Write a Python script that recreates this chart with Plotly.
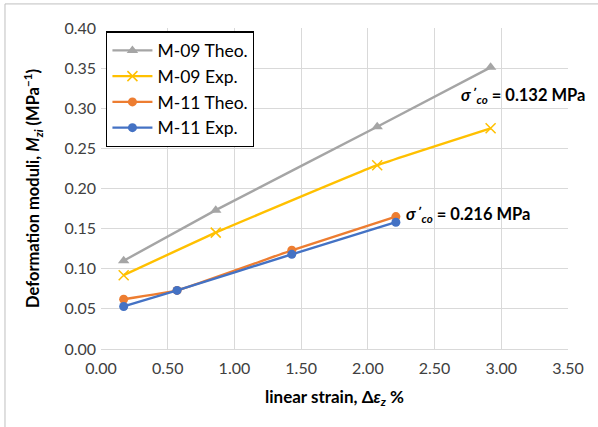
import plotly.graph_objects as go

m09_theo_x = [0.17, 0.86, 2.07, 2.92]
m09_theo_y = [0.110, 0.173, 0.277, 0.351]
m09_exp_x = [0.17, 0.86, 2.07, 2.92]
m09_exp_y = [0.092, 0.145, 0.229, 0.275]
m11_theo_x = [0.17, 0.57, 1.43, 2.21]
m11_theo_y = [0.062, 0.073, 0.123, 0.165]
m11_exp_x = [0.17, 0.57, 1.43, 2.21]
m11_exp_y = [0.053, 0.073, 0.118, 0.158]

FONT = "Lato"
fig = go.Figure()
fig.add_trace(go.Scatter(x=m09_theo_x, y=m09_theo_y, name="M-09 Theo.", mode="lines+markers",
                         line=dict(color="#A5A5A5", width=2.4, shape="spline", smoothing=0.3),
                         marker=dict(symbol="triangle-up", size=10, color="#A5A5A5")))
fig.add_trace(go.Scatter(x=m09_exp_x, y=m09_exp_y, name="M-09 Exp.", mode="lines+markers",
                         line=dict(color="#FFC000", width=2.4, shape="spline", smoothing=0.3),
                         marker=dict(symbol="x-thin", size=10, color="#FFC000", line=dict(color="#FFC000", width=1.5))))
fig.add_trace(go.Scatter(x=m11_theo_x, y=m11_theo_y, name="M-11 Theo.", mode="lines+markers",
                         line=dict(color="#ED7D31", width=2.4, shape="spline", smoothing=0.3),
                         marker=dict(symbol="circle", size=9, color="#ED7D31")))
fig.add_trace(go.Scatter(x=m11_exp_x, y=m11_exp_y, name="M-11 Exp.", mode="lines+markers",
                         line=dict(color="#4472C4", width=2.4, shape="spline", smoothing=0.3),
                         marker=dict(symbol="circle", size=9, color="#4472C4")))

fig.add_annotation(x=3.16, y=0.316, xref="x", yref="y", xanchor="center", yanchor="middle", showarrow=False,
                   text="<b><i>σ΄<sub>co</sub></i> = 0.132 MPa</b>", font=dict(family=FONT, size=16.5, color="black"))
fig.add_annotation(x=2.27, y=0.167, xref="x", yref="y", xanchor="left", yanchor="middle", showarrow=False,
                   text="<b><i>σ΄<sub>co</sub></i> = 0.216 MPa</b>", font=dict(family=FONT, size=16.5, color="black"))

fig.update_layout(
    width=598, height=427,
    margin=dict(l=101, r=30, t=28, b=78),
    paper_bgcolor="white", plot_bgcolor="white",
    font=dict(family=FONT, size=16, color="#404040"),
    legend=dict(x=0.011, y=0.99, xanchor="left", yanchor="top", bordercolor="black", borderwidth=1.3,
                bgcolor="white", font=dict(family=FONT, size=17.5, color="black"), tracegroupgap=0,
                itemwidth=40),
    xaxis=dict(range=[0, 3.5], dtick=0.5, tickformat=".2f", showgrid=True, gridcolor="#D9D9D9",
               zeroline=False, showline=True, linecolor="#D9D9D9", ticks="", mirror=False,
               ticklabelstandoff=5,
               title=dict(text="<b>linear strain, Δ<i>ε<sub>z</sub></i> %</b>", font=dict(family=FONT, size=17, color="black"), standoff=14),
               tickfont=dict(family=FONT, size=16, color="#404040")),
    yaxis=dict(range=[0, 0.4], dtick=0.05, tickformat=".2f", showgrid=True, gridcolor="#D9D9D9",
               zeroline=False, showline=False, ticks="", ticklabelstandoff=4,
               title=dict(text="<b>Deformation moduli, <i>M<sub>zi</sub></i> (MPa<sup>−1</sup>)</b>", font=dict(family=FONT, size=16.5, color="black"), standoff=20),
               tickfont=dict(family=FONT, size=16, color="#404040")),
    shapes=[dict(type="rect", xref="paper", yref="paper", x0=-0.2056, x1=1.3, y0=-0.4, y1=1.075,
                 line=dict(color="#BFBFBF", width=1), fillcolor="rgba(0,0,0,0)")],
)
fig.write_html("out.html")
